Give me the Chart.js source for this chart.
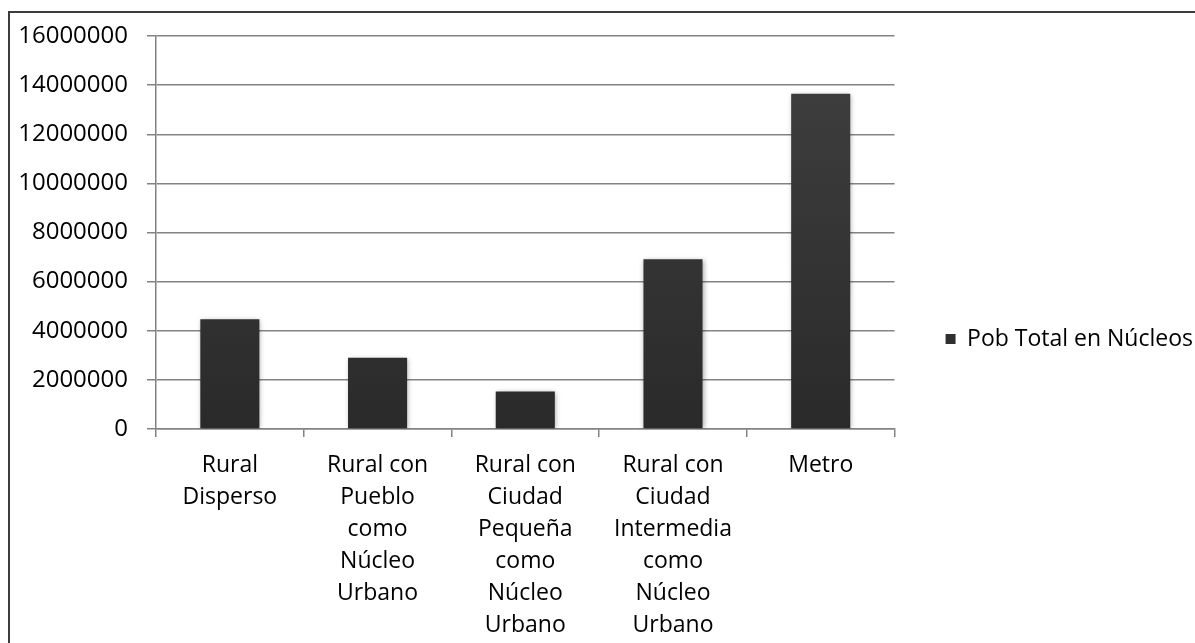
<!DOCTYPE html>
<html>
<head>
<meta charset="utf-8">
<script src="https://cdn.jsdelivr.net/npm/chart.js@4.4.1/dist/chart.umd.min.js"></script>
<style>
  html, body { margin: 0; padding: 0; background: #fff; overflow: hidden; width: 1195px; height: 643px; }
  #frame { position: absolute; left: 8px; top: 11px; width: 1193px; height: 654px;
           border-left: 2px solid #3c3c3c; border-top: 2px solid #3c3c3c; }
  canvas { display: block; }
</style>
</head>
<body>
<div id="frame"><canvas id="chart" width="1193" height="629"></canvas></div>
<script>
// datos del gráfico
const categorias = [
  ['Rural', 'Disperso'],
  ['Rural con', 'Pueblo', 'como', 'Núcleo', 'Urbano'],
  ['Rural con', 'Ciudad', 'Pequeña', 'como', 'Núcleo', 'Urbano'],
  ['Rural con', 'Ciudad', 'Intermedia', 'como', 'Núcleo', 'Urbano'],
  ['Metro']
];
const pobTotal = [4470000, 2900000, 1530000, 6910000, 13650000];
const serieNombre = 'Pob Total en Núcleos';
const ejeMin = 0;
const ejeMax = 16000000;
const ejePaso = 2000000;

const gris = '#838383';
const fuente = { family: "'Open Sans', sans-serif", size: 23 };

// sombra suave bajo las barras
const barShadow = {
  id: 'barShadow',
  beforeDatasetsDraw(chart) {
    const c = chart.ctx;
    c.save();
    c.shadowColor = 'rgba(0,0,0,0.35)';
    c.shadowBlur = 5;
    c.shadowOffsetX = 1;
    c.shadowOffsetY = 1;
  },
  afterDatasetsDraw(chart) {
    chart.ctx.restore();
  }
};

function barGradient(ctx) {
  const area = ctx.chart.chartArea;
  if (!area) return '#333';
  const g = ctx.chart.ctx.createLinearGradient(0, area.top, 0, area.bottom);
  g.addColorStop(0, '#404040');
  g.addColorStop(1, '#2a2a2a');
  return g;
}

function dibujar() {
  new Chart(document.getElementById('chart'), {
    type: 'bar',
    data: {
      labels: categorias,
      datasets: [{
        label: serieNombre,
        data: pobTotal,
        backgroundColor: barGradient,
        borderWidth: 0,
        categoryPercentage: 1,
        barPercentage: 0.4
      }]
    },
    plugins: [barShadow],
    options: {
      responsive: false,
      animation: false,
      layout: { padding: { top: 23, left: 0, right: 0, bottom: 0 } },
      plugins: {
        tooltip: { enabled: false },
        legend: {
          position: 'right',
          maxWidth: 400,
          labels: {
            boxWidth: 10,
            boxHeight: 10,
            color: '#000',
            font: fuente
          }
        }
      },
      scales: {
        x: {
          offset: true,
          grid: { drawOnChartArea: false, drawTicks: true, tickLength: 8, color: gris, lineWidth: 1.5, offset: true },
          border: { color: gris, width: 1.5 },
          ticks: { maxRotation: 0, autoSkip: false, padding: 12, color: '#000',
                   font: { family: fuente.family, size: 23, lineHeight: '32px' } },
          afterFit(s) { s.height = 213; }
        },
        y: {
          min: ejeMin,
          max: ejeMax,
          grid: { color: gris, lineWidth: 1.5, tickLength: 9 },
          border: { color: gris, width: 1.5 },
          ticks: { stepSize: ejePaso, padding: 19, color: '#000',
                   font: { family: fuente.family, size: 24 },
                   callback: v => String(v) },
          afterFit(s) { s.width = 146; s.paddingTop = 0; s.paddingBottom = 0; }
        },
        espacio: {
          type: 'linear',
          position: 'right',
          grid: { display: false },
          border: { display: false },
          ticks: { display: false },
          afterFit(s) { s.width = 41; s.paddingTop = 0; s.paddingBottom = 0; }
        }
      }
    }
  });
}

// esperar a la fuente antes de medir los textos
Promise.all([
  document.fonts.load("23px 'Open Sans'"),
  document.fonts.load("24px 'Open Sans'")
]).then(dibujar, dibujar);
</script>
</body>
</html>
